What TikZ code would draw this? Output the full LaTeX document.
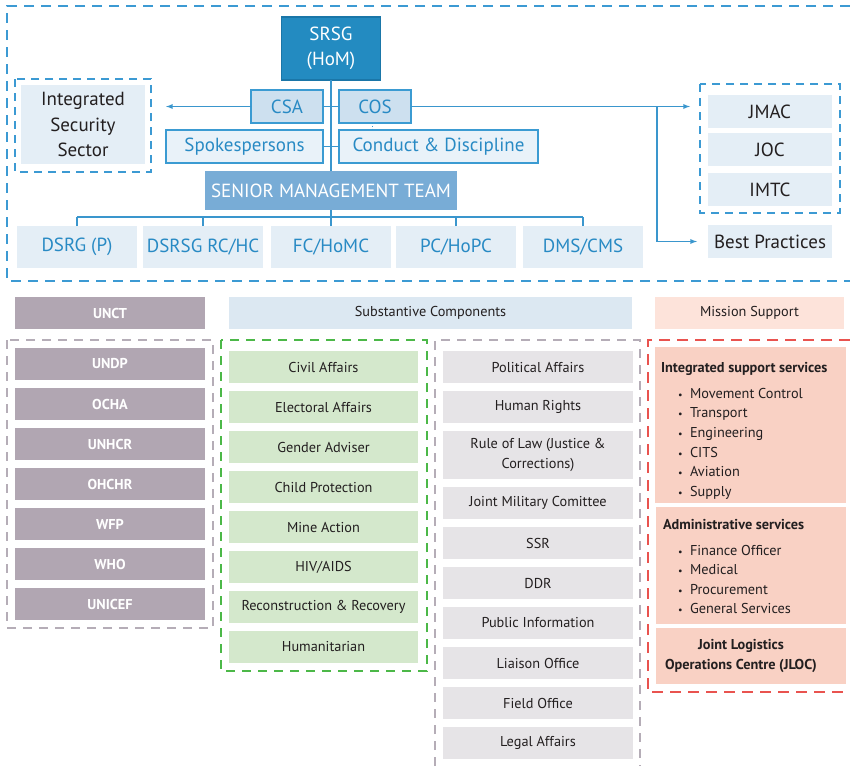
\documentclass[tikz,border=0pt]{standalone}
\usepackage{fontspec}
\setmainfont{PT Sans}
\usepackage{tikz}
\usetikzlibrary{arrows}

\begin{document}
\begin{tikzpicture}[x=1pt,y=-1pt,line cap=butt,
	plain/.style={rectangle, inner sep=0, outer sep=0, align=center},
	srsgbox/.style={plain, fill=col_srsg, draw=col_srsgedge, line width=1.5pt, text=white, font=\fontA},
	csabox/.style={plain, fill=col_mid, draw=col_edge, line width=1.2pt, text=col_blue, font=\fontA},
	spkbox/.style={plain, fill=col_light, draw=col_edge, line width=1.2pt, text=col_blue, font=\fontA},
	smtbox/.style={plain, fill=col_smt, text=white, font=\fontA},
	deputybox/.style={plain, fill=col_pale, text=col_blue, font=\fontA, minimum width=120, minimum height=42},
	cellbox/.style={plain, fill=col_pale, text=col_dark, font=\fontA},
	unctbox/.style={plain, fill=col_mauve, text=white, font=\fontB\bfseries, minimum width=190, minimum height=32},
	greenbox/.style={plain, fill=col_green, text=col_dark, font=\fontB, minimum width=189, minimum height=32},
	greybox/.style={plain, fill=col_grey, text=col_dark, font=\fontB, minimum width=190, minimum height=32},
	msbox/.style={plain, fill=col_salmon},
	mstext/.style={inner sep=0, outer sep=0, text=col_dark, font=\fontB, anchor=base west},
	link/.style={line width=1.3pt, col_line},
	bluedash/.style={line width=2.5pt, col_dash, dash pattern=on 10pt off 7pt},
	greydash/.style={line width=2.5pt, col_greydash, dash pattern=on 9pt off 7pt},
	greendash/.style={line width=2.5pt, col_greendash, dash pattern=on 9pt off 7pt},
	reddash/.style={line width=2.5pt, col_reddash, dash pattern=on 11pt off 7pt}]
				\def\fontA{\fontsize{19}{25.5}\selectfont}
				\def\fontB{\fontsize{14.3}{20}\selectfont}
				\def\bul#1{\makebox[12pt][l]{\fontsize{10}{10}\selectfont\textbullet}#1}
				\definecolor{col_srsg}{RGB}{35, 139, 193}
				\definecolor{col_srsgedge}{RGB}{26, 118, 168}
				\definecolor{col_mid}{RGB}{205, 224, 239}
				\definecolor{col_light}{RGB}{233, 242, 249}
				\definecolor{col_pale}{RGB}{228, 238, 246}
				\definecolor{col_edge}{RGB}{59, 155, 210}
				\definecolor{col_blue}{RGB}{40, 138, 196}
				\definecolor{col_smt}{RGB}{120, 172, 214}
				\definecolor{col_line}{RGB}{58, 150, 205}
				\definecolor{col_dash}{RGB}{60, 154, 211}
				\definecolor{col_dark}{RGB}{35, 31, 32}
				\definecolor{col_mauve}{RGB}{177, 166, 178}
				\definecolor{col_subhd}{RGB}{220, 232, 242}
				\definecolor{col_mshd}{RGB}{253, 227, 218}
				\definecolor{col_green}{RGB}{212, 232, 204}
				\definecolor{col_grey}{RGB}{230, 228, 231}
				\definecolor{col_salmon}{RGB}{249, 209, 196}
				\definecolor{col_greydash}{RGB}{181, 173, 183}
				\definecolor{col_greendash}{RGB}{76, 184, 72}
				\definecolor{col_reddash}{RGB}{233, 83, 79}
				\useasboundingbox (0,0) rectangle (850,766);
				% mission leadership
				\draw [bluedash] (850,6) -- (7,6) -- (7,281) -- (850,281);
				\node[srsgbox, minimum width=99, minimum height=63] (srsg) at (331,48.5) {SRSG\\(HoM)};
				\node[csabox, minimum width=72, minimum height=33] (csa) at (287,106.5) {CSA};
				\node[csabox, minimum width=72, minimum height=33] (cos) at (375,106.5) {COS};
				\node[spkbox, minimum width=157, minimum height=33] (spk) at (244.5,146.5) {Spokespersons};
				\node[spkbox, minimum width=199, minimum height=33] (cnd) at (438.5,146.5) {Conduct \& Discipline};
				\node[smtbox, minimum width=252, minimum height=39] (smt) at (331,190.5) {SENIOR MANAGEMENT TEAM};
				\node[deputybox] (dsrg) at (77,247) {DSRG (P)};
				\node[deputybox] (dsrsg) at (203,247) {DSRSG RC/HC};
				\node[deputybox] (fc) at (331,247) {FC/HoMC};
				\node[deputybox] (pc) at (456,247) {PC/HoPC};
				\node[deputybox] (dms) at (583,247) {DMS/CMS};
				\draw [bluedash, dash pattern=on 8pt off 6pt] (15,79) rectangle (151,172);
				\node[cellbox, minimum width=124, minimum height=79] (iss) at (83,124.5) {Integrated\\Security\\Sector};
				\draw [bluedash, dash pattern=on 8pt off 6pt] (700,84) rectangle (840,213);
				\node[cellbox, minimum width=124, minimum height=33] (jmac) at (770,111.5) {JMAC};
				\node[cellbox, minimum width=124, minimum height=33] (joc) at (770,149.5) {JOC};
				\node[cellbox, minimum width=124, minimum height=33] (imtc) at (770,189.5) {IMTC};
				\node[cellbox, minimum width=124, minimum height=33] (bp) at (770,241.5) {Best Practices};
				\coordinate (issarr) at (166,106.5);
				\coordinate (rarr) at (690,106.5);
				\coordinate (brk) at (657,106.5);
				\coordinate (bus) at (331,217);
				\draw [link] (srsg.south) -- (smt.north);
				\draw [link] (csa.east) -- (cos.west);
				\draw [link] (spk.east) -- (cnd.west);
				\draw [link, -latex] (csa.west) -- (issarr);
				\draw [link, -latex] (cos.east) -- (rarr);
				\draw [link, -latex, shorten >=11pt] (brk) |- (bp.west);
				\draw [link, line width=0.8pt, dotted] ([xshift=-3]cos.south) -- ([xshift=-3]cos.south |- cnd.north);
				\draw [link] (smt.south) -- (bus);
				\draw [link] (dsrg.north |- bus) -- (dms.north |- bus);
				\foreach \n in {dsrg,dsrsg,fc,pc,dms}
					\draw [link] (\n.north) -- (\n.north |- bus);
				% headers
				\node[unctbox] (unct) at (110,313) {UNCT};
				\node[plain, fill=col_subhd, text=col_dark, font=\fontB, minimum width=403, minimum height=32] (subst) at (430.5,313) {Substantive Components};
				\node[plain, fill=col_mshd, text=col_dark, font=\fontB, minimum width=189, minimum height=32] (msup) at (749.5,313) {Mission Support};
				% UNCT
				\draw [greydash] (7,340) rectangle (213,628);
				\foreach \nm [count=\i] in {UNDP,OCHA,UNHCR,OHCHR,WFP,WHO,UNICEF}
					\node[unctbox] (\nm) at (110,{324+40*\i}) {\nm};
				% substantive
				\draw [greendash] (221,340) rectangle (427,671);
				\foreach \txt [count=\i] in {Civil Affairs,Electoral Affairs,Gender Adviser,Child Protection,Mine Action,HIV/AIDS,Reconstruction \& Recovery,Humanitarian}
					\node[greenbox] (sc\i) at (323.5,{327+40*\i}) {\txt};
				\draw [greydash] (435,766) -- (435,340) -- (640,340) -- (640,766);
				\node[greybox] (pol) at (538,367) {Political Affairs};
				\node[greybox] (hr) at (538,407) {Human Rights};
				\node[greybox, minimum height=48] (rol) at (538,455) {Rule of Law (Justice \&\\Corrections)};
				\node[greybox] (jmc) at (538,503) {Joint Military Comittee};
				\node[greybox] (ssr) at (538,543) {SSR};
				\node[greybox] (ddr) at (538,583) {DDR};
				\node[greybox] (pi) at (538,623) {Public Information};
				\node[greybox] (lo) at (538,663) {Liaison Office};
				\node[greybox] (fo) at (538,703) {Field Office};
				\node[greybox] (la) at (538,743) {Legal Affairs};
				% mission support
				\draw [reddash] (850,340) -- (648,340) -- (648,692) -- (850,692);
				\node[msbox, minimum width=191, minimum height=156] (isv) at (750.5,425) {};
				\node[msbox, minimum width=190, minimum height=117] (adm) at (751,565.5) {};
				\node[msbox, minimum width=190, minimum height=56] (jloc) at (751,656) {};
				\node[mstext, font=\fontB\bfseries] (isvt) at (661,372) {Integrated support services};
				\foreach \txt [count=\i] in {Movement Control,Transport,Engineering,CITS,Aviation,Supply}
					\node[mstext] (isv\i) at (678,{378.3+19.7*\i}) {\bul{\txt}};
				\node[mstext, font=\fontB\bfseries] (admt) at (663,529) {Administrative services};
				\foreach \txt [count=\i] in {Finance Officer,Medical,Procurement,General Services}
					\node[mstext] (adm\i) at (678,{535.5+19.5*\i}) {\bul{\txt}};
				\node[plain, text=col_dark, font=\fontB\bfseries, baseline] (jloct) at (741,656) {Joint Logistics\\Operations Centre (JLOC)};
			\end{tikzpicture}
\end{document}
